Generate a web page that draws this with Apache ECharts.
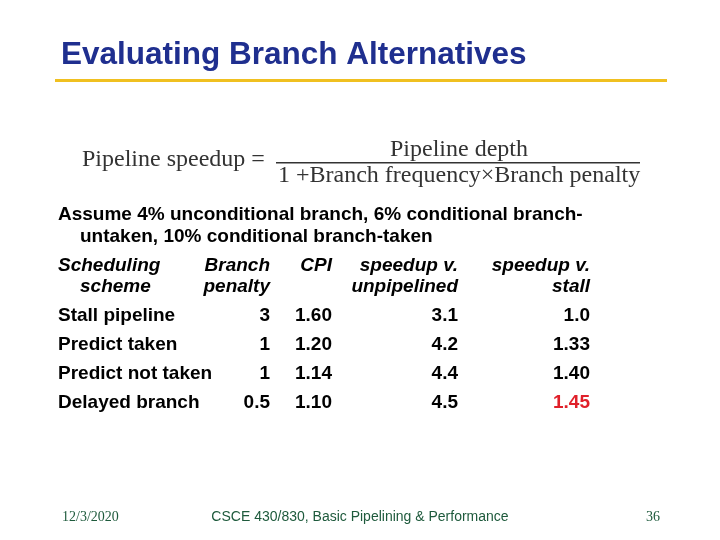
<!DOCTYPE html>
<html><head><meta charset="utf-8">
<script src="https://cdn.jsdelivr.net/npm/echarts@6/dist/echarts.min.js"></script>
<style>html,body{margin:0;padding:0;background:#fff}#c{width:720px;height:540px}</style>
</head><body><div id="c"></div>
<script>
const title = "Evaluating Branch Alternatives";
const assumeLines = ["Assume 4% unconditional branch, 6% conditional branch-", "untaken, 10% conditional branch-taken"];
const schemes = ["Stall pipeline", "Predict taken", "Predict not taken", "Delayed branch"];
const penalties = ["3", "1", "1", "0.5"];
const cpis = ["1.60", "1.20", "1.14", "1.10"];
const speedupPipelined = ["3.1", "4.2", "4.4", "4.5"];
const speedupStall = ["1.0", "1.33", "1.40", "1.45"];
const footer = ["12/3/2020", "CSCE 430/830, Basic Pipelining & Performance", "36"];

const chart = echarts.init(document.getElementById('c'));
const els = [];
const bodyFont = 'bold 19px "Liberation Sans", Arial, sans-serif';
const headFont = 'italic bold 19px "Liberation Sans", Arial, sans-serif';
function t(x, y, s, font, align, color) {
  els.push({type:'text', x:x, y:y, style:{text:s, font:font, fill:color||'#000', textAlign:align||'left', textVerticalAlign:'middle'}});
}
t(61, 55, title, 'bold 31.5px "Liberation Sans", Arial, sans-serif', 'left', '#1f2f8f');
els.push({type:'rect', shape:{x:55, y:79, width:612, height:3}, style:{fill:'#f0c020'}});
const serif = '24px "Liberation Serif", "Times New Roman", serif';
t(82, 160, "Pipeline speedup =", serif, 'left', '#333');
t(459, 150, "Pipeline depth", serif, 'center', '#333');
els.push({type:'rect', shape:{x:276, y:162, width:364, height:1.5}, style:{fill:'#333'}});
t(278, 176, "1 +Branch frequency\u00d7Branch penalty", serif, 'left', '#333');
t(58, 215, assumeLines[0], bodyFont);
t(80, 237, assumeLines[1], bodyFont);
t(58, 266, "Scheduling", headFont); t(270, 266, "Branch", headFont, 'right');
t(332, 266, "CPI", headFont, 'right'); t(458, 266, "speedup v.", headFont, 'right');
t(590, 266, "speedup v.", headFont, 'right');
t(80, 287, "scheme", headFont); t(270, 287, "penalty", headFont, 'right');
t(458, 287, "unpipelined", headFont, 'right'); t(590, 287, "stall", headFont, 'right');
schemes.forEach((s, i) => {
  const y = 316 + i * 29;
  t(58, y, s, bodyFont);
  t(270, y, penalties[i], bodyFont, 'right');
  t(332, y, cpis[i], bodyFont, 'right');
  t(458, y, speedupPipelined[i], bodyFont, 'right');
  t(590, y, speedupStall[i], bodyFont, 'right', i === schemes.length - 1 ? '#e0202a' : '#000');
});
t(62, 517, footer[0], '14px "Liberation Serif", serif', 'left', '#1e5a3c');
t(360, 517, footer[1], '14px "Liberation Sans", Arial, sans-serif', 'center', '#1e5a3c');
t(660, 517, footer[2], '14px "Liberation Serif", serif', 'right', '#1e5a3c');
chart.setOption({animation:false, graphic:{elements:els}});
</script></body></html>
